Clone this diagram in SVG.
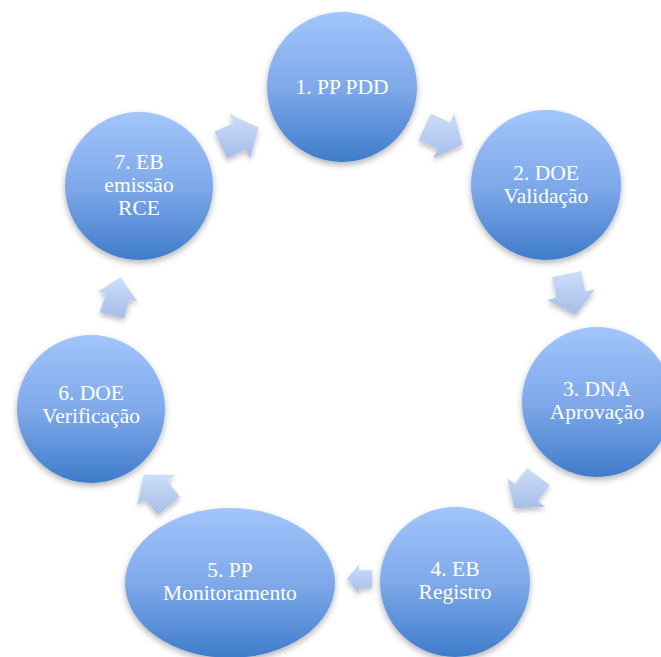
<svg xmlns="http://www.w3.org/2000/svg" width="661" height="657" viewBox="0 0 661 657">
<defs>
<linearGradient id="gNode" x1="0" y1="0" x2="0" y2="1">
<stop offset="0" stop-color="#A2C5FB"/>
<stop offset="0.5" stop-color="#7FA9EA"/>
<stop offset="1" stop-color="#3F7CCB"/>
</linearGradient>
<linearGradient id="gArrow" x1="0" y1="0" x2="0" y2="1">
<stop offset="0" stop-color="#CCDEF9"/>
<stop offset="1" stop-color="#A6BDE7"/>
</linearGradient>
<filter id="shNode" x="-20%" y="-20%" width="140%" height="140%">
<feDropShadow dx="0" dy="3" stdDeviation="3" flood-color="#000" flood-opacity="0.3"/>
</filter>
<filter id="shArrow" x="-30%" y="-30%" width="160%" height="160%">
<feDropShadow dx="0" dy="3" stdDeviation="2.5" flood-color="#000" flood-opacity="0.25"/>
</filter>
</defs>
<style>
.node{fill:url(#gNode);filter:url(#shNode);}
.arrow{fill:url(#gArrow);filter:url(#shArrow);}
.lbl{font-family:'Liberation Serif','DejaVu Serif',serif;font-size:21.5px;fill:#FFFFFF;text-anchor:middle;}
</style>
<rect width="661" height="657" fill="#FFFFFF"/>
<g id="connectors">
<polygon class="arrow" points="431.0,113.6 450.0,122.5 454.2,113.4 462.5,144.5 433.4,158.2 437.6,149.1 418.6,140.3"/>
<polygon class="arrow" points="580.8,270.9 585.4,291.4 595.1,289.3 575.5,314.7 546.9,300.0 556.6,297.8 552.1,277.3"/>
<polygon class="arrow" points="549.6,484.9 537.5,501.0 545.1,506.8 514.3,508.3 507.3,478.2 514.9,484.0 527.1,467.9"/>
<polygon class="arrow" points="371.9,587.8 359.3,587.8 359.3,593.8 346.9,579 359.3,564.2 359.3,570.2 371.9,570.2"/>
<polygon class="arrow" points="157.7,514.8 145.0,498.9 137.5,504.9 143.8,474.4 175.0,475.1 167.4,481.1 180.0,497.1"/>
<polygon class="arrow" points="99.8,312.4 106.1,293.7 98.2,291.7 120.5,277.3 137.4,301.7 129.5,299.7 124.2,318.4"/>
<polygon class="arrow" points="214.5,131.8 233.5,122.9 229.3,113.8 258.4,127.5 250.1,158.6 245.9,149.5 226.9,158.4"/>
</g>
<g id="node1">
<circle class="node" cx="342" cy="87" r="75"/>
<text class="lbl" x="342" y="94">1. PP PDD</text>
</g>
<g id="node2">
<circle class="node" cx="546" cy="185" r="75"/>
<text class="lbl" x="546" y="180">2. DOE</text>
<text class="lbl" x="546" y="203">Validação</text>
</g>
<g id="node3">
<circle class="node" cx="597" cy="402" r="75"/>
<text class="lbl" x="597" y="396">3. DNA</text>
<text class="lbl" x="597" y="419">Aprovação</text>
</g>
<g id="node4">
<circle class="node" cx="455" cy="582" r="75"/>
<text class="lbl" x="455" y="576">4. EB</text>
<text class="lbl" x="455" y="599">Registro</text>
</g>
<g id="node5">
<ellipse class="node" cx="230" cy="583" rx="105" ry="75"/>
<text class="lbl" x="230" y="577">5. PP</text>
<text class="lbl" x="230" y="600">Monitoramento</text>
</g>
<g id="node6">
<circle class="node" cx="91" cy="409" r="74"/>
<text class="lbl" x="91" y="400">6. DOE</text>
<text class="lbl" x="91" y="423">Verificação</text>
</g>
<g id="node7">
<circle class="node" cx="139" cy="186" r="74"/>
<text class="lbl" x="139" y="169">7. EB</text>
<text class="lbl" x="139" y="192">emissão</text>
<text class="lbl" x="139" y="215">RCE</text>
</g>
</svg>
